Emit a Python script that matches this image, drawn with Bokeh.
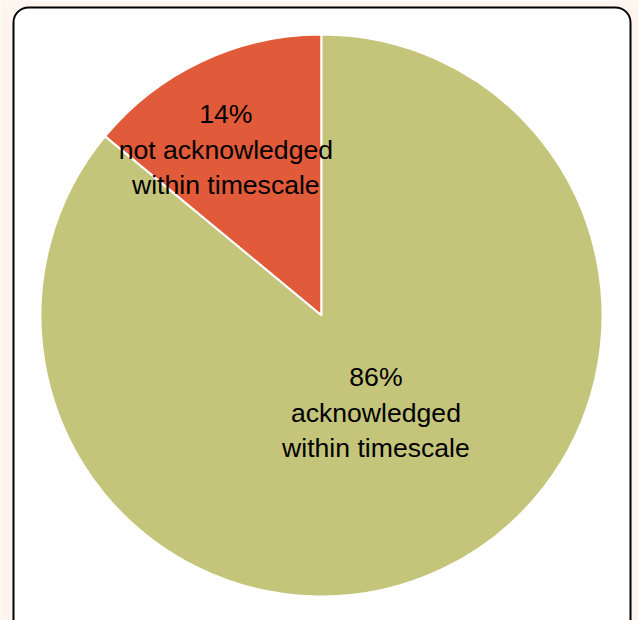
import math
from bokeh.plotting import figure
from bokeh.models import ColumnDataSource, Range1d, BoxAnnotation
from bokeh.core.properties import value
from bokeh.embed import file_html
from bokeh.resources import INLINE

# ---- data ----
categories = ["not acknowledged within timescale", "acknowledged within timescale"]
percents = [14, 86]
label_texts = ["14%\nnot acknowledged\nwithin timescale", "86%\nacknowledged\nwithin timescale"]
colors = ["#e15a3a", "#c4c57b"]

W, H = 638, 620
cx, cy = 321, H - 315
R = 281
label_frac = [0.676, 0.397]
label_turn = math.radians(4)

total = sum(percents)
starts, ends, lx, ly = [], [], [], []
a = math.pi / 2
for i, v in enumerate(percents):
    span = 2 * math.pi * v / total
    starts.append(a)
    ends.append(a + span)
    mid = a + span / 2 + label_turn
    lx.append(cx + R * label_frac[i] * math.cos(mid))
    ly.append(cy + R * label_frac[i] * math.sin(mid))
    a += span
lx[0] -= 3

src = ColumnDataSource(dict(start=starts, end=ends, color=colors, cat=categories))
lsrc = ColumnDataSource(dict(x=lx, y=ly, text=label_texts))

p = figure(width=W, height=H, output_backend="svg", toolbar_location=None,
           x_range=Range1d(0, W), y_range=Range1d(0, H),
           x_axis_type=None, y_axis_type=None, min_border=0,
           background_fill_color="#fdf5ee", border_fill_color="#fdf5ee",
           outline_line_color=None)
p.grid.visible = False

box = BoxAnnotation(left=13, right=630, top=H - 7, bottom=-20,
                    fill_color="white", fill_alpha=1.0,
                    line_color="black", line_alpha=1.0, line_width=2,
                    border_radius=15, level="underlay")
p.add_layout(box)

p.wedge(x=cx, y=cy, radius=R, start_angle="start", end_angle="end",
        direction="anticlock", fill_color="color", line_color="white",
        line_width=2, source=src)

p.text(x="x", y="y", text="text", source=lsrc, text_align="center",
       text_baseline="middle", text_font=value("Liberation Sans"),
       text_font_size="26.6px", text_color="black", text_line_height=1.18)

open("out.html", "w").write(file_html(p, INLINE))
